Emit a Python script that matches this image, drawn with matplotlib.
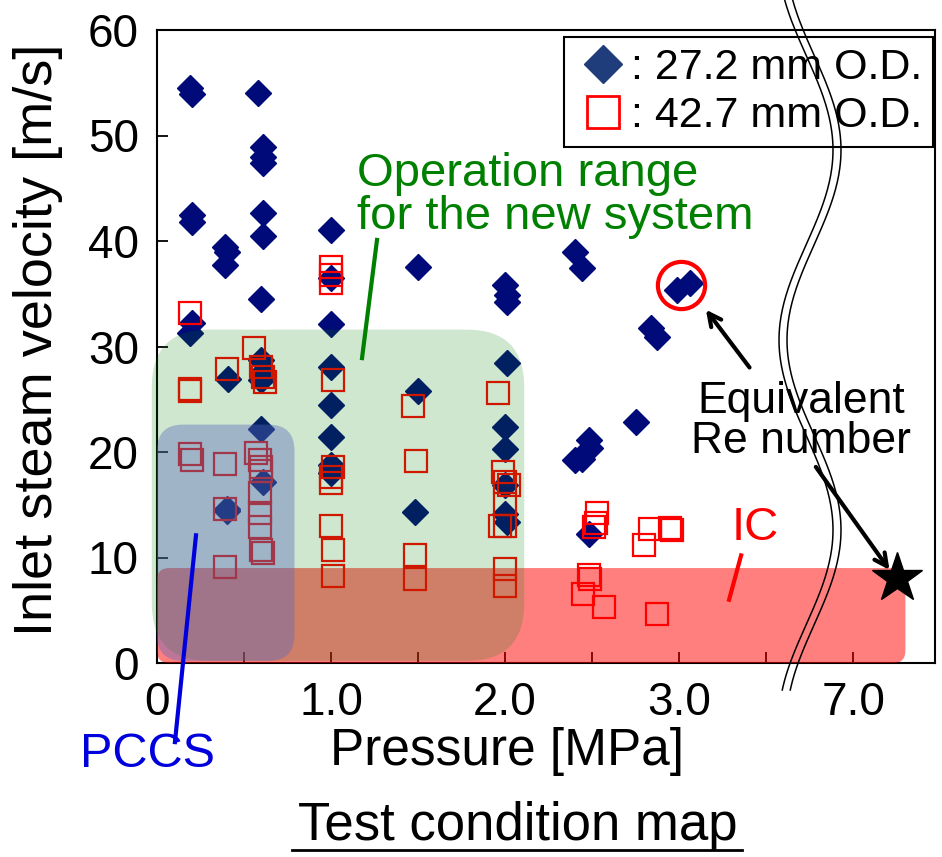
import numpy as np
import matplotlib
matplotlib.use("Agg")
import matplotlib.pyplot as plt
from matplotlib.patches import FancyBboxPatch
from matplotlib.lines import Line2D

plt.rcParams['font.family'] = ['Liberation Sans', 'DejaVu Sans']

# 27.2 mm O.D. (pressure [MPa], inlet steam velocity [m/s])
p_272 = [0.19, 0.20, 0.58, 0.61, 0.61, 0.61, 0.20, 0.20, 0.61, 0.61, 0.39, 0.40, 0.39,
         0.60, 1.00, 1.00, 1.00, 0.20, 0.19, 0.60, 0.61, 0.60, 0.41, 1.00, 1.00, 1.00,
         0.60, 1.00, 1.00, 0.61, 0.40, 0.40, 1.50, 2.00, 2.01, 2.01, 2.40, 2.44, 2.84,
         2.87, 2.99, 3.06, 2.01, 1.50, 2.00, 2.00, 2.75, 2.48, 2.49, 2.40, 2.44, 2.00,
         2.00, 2.01, 1.48, 2.48]
v_272 = [54.5, 53.9, 54.0, 48.9, 48.0, 47.4, 42.5, 41.8, 42.7, 40.5, 39.4, 39.0, 37.7,
         34.5, 41.0, 36.5, 32.1, 32.2, 31.3, 28.7, 27.6, 26.8, 26.9, 28.1, 24.5, 21.4,
         22.2, 18.8, 18.0, 17.2, 14.6, 14.4, 37.5, 35.8, 34.9, 34.2, 39.0, 37.4, 31.8,
         30.9, 35.4, 36.0, 28.4, 25.8, 22.4, 20.3, 22.8, 21.1, 20.4, 19.2, 19.3, 16.9,
         14.1, 13.4, 14.3, 12.2]

# 42.7 mm O.D.
p_427 = [0.19, 1.00, 1.00, 1.00, 0.56, 0.40, 0.60, 0.61, 0.62, 0.19, 0.19, 1.01, 0.19,
         0.20, 0.39, 0.57, 0.59, 0.60, 0.60, 0.59, 0.59, 0.59, 0.60, 0.61, 0.39, 0.39,
         1.01, 1.00, 1.00, 1.00, 1.01, 1.01, 1.47, 1.96, 1.49, 1.99, 2.00, 2.02, 2.00,
         1.97, 2.00, 1.48, 1.48, 2.00, 2.00, 2.53, 2.52, 2.51, 2.48, 2.49, 2.45, 2.57,
         2.83, 2.80, 2.95, 2.96, 2.87]
v_427 = [33.2, 37.5, 36.8, 36.0, 29.9, 27.9, 28.1, 27.1, 26.6, 26.0, 25.8, 26.8, 19.8,
         19.2, 18.9, 19.9, 19.2, 18.6, 18.2, 16.1, 14.2, 12.9, 10.7, 10.4, 14.6, 9.1,
         18.6, 17.6, 17.1, 13.0, 10.7, 8.2, 24.4, 25.6, 19.1, 18.1, 17.2, 16.9, 15.1,
         13.0, 13.0, 10.2, 8.0, 8.9, 7.3, 14.2, 13.3, 12.9, 8.3, 8.0, 6.5, 5.3,
         12.7, 11.2, 12.8, 12.6, 4.6]

# equivalent Re number point at high pressure
p_star = 7.25
v_star = 8.1

xticks = [0, 1, 2, 3, 4]
xticklabels = ['0', '1.0', '2.0', '3.0', '7.0']


def px(p):
    # broken axis: 7.0 MPa is drawn at 4.0
    return p if p < 3.6 else p - 3.0


W, H = 942, 857
fig = plt.figure(figsize=(W / 100, H / 100), dpi=100)
ax = fig.add_axes([157 / W, 1 - 663 / H, 778 / W, 633 / H])
ax.set_xlim(0, 4.47)
ax.set_ylim(0, 60)

ax.plot(p_272, v_272, ls='none', marker='D', ms=13, color='#000a78', zorder=2)
ax.plot(p_427, v_427, ls='none', marker='s', ms=16.5, mfc='none', mec='red', mew=1.6, zorder=2)
ax.plot(px(p_star), v_star, marker='*', ms=38, color='black', ls='none', zorder=6, clip_on=False)

# shaded ranges (rounded)
asp = (60 / 633) / (4.47 / 778)
ic = FancyBboxPatch((0.0, 0.0), 4.30, 9.0, boxstyle='round,pad=0,rounding_size=0.07',
                    mutation_aspect=asp, fc='red', ec='none', alpha=0.5, zorder=3)
green = FancyBboxPatch((-0.03, 0.2), 2.14, 31.4, boxstyle='round,pad=0,rounding_size=0.33',
                       mutation_aspect=asp, fc='green', ec='none', alpha=0.19, zorder=4, clip_on=False)
pccs = FancyBboxPatch((0.0, 0.2), 0.79, 22.4, boxstyle='round,pad=0,rounding_size=0.15',
                      mutation_aspect=asp, fc='#5a68be', ec='none', alpha=0.4, zorder=5)
for patch in [ic, green, pccs]:
    ax.add_patch(patch)

# ring around the equivalent point
ax.plot(3.01, 35.8, marker='o', ms=34, mfc='none', mec='red', mew=3, zorder=6)

# annotations
ax.text(1.15, 44.3, 'Operation range\nfor the new system', color='#008000', fontsize=34,
        ha='left', va='center', linespacing=0.95, zorder=7)
ax.plot([1.264, 1.178], [40.1, 28.9], color='#008000', lw=3, zorder=7)

ax.text(-0.057, -8.7, 'PCCS', color='#0000dd', fontsize=35, ha='center', va='center', zorder=7)
ax.plot([0.224, 0.103], [12.1, -7.5], color='#0000dd', lw=3, zorder=7, clip_on=False)

ax.text(3.44, 12.8, 'IC', color='red', fontsize=34, ha='center', va='center', zorder=7)
ax.plot([3.356, 3.287], [10.2, 6.0], color='red', lw=3, zorder=7)

ax.text(3.70, 22.9, 'Equivalent\nRe number', color='black', fontsize=32, ha='center', va='center',
        linespacing=0.95, zorder=7)
ax.annotate('', xy=(3.144, 33.7), xytext=(3.414, 27.8),
            arrowprops=dict(arrowstyle='->,head_length=0.9,head_width=0.45', lw=3, color='black'), zorder=7)
ax.annotate('', xy=(4.218, 8.6), xytext=(3.776, 18.8),
            arrowprops=dict(arrowstyle='->,head_length=0.9,head_width=0.45', lw=3, color='black'), zorder=7)

# axes styling
ax.set_xticks(xticks)
ax.set_xticklabels(xticklabels)
ax.set_xticks([0.5, 1.5, 2.5, 3.5], minor=True)
ax.set_yticks(range(0, 61, 10))
ax.tick_params(axis='both', which='both', direction='in', length=8, width=1.3, labelsize=33, pad=13,
               top=False, right=False)
for s in ax.spines.values():
    s.set_linewidth(1.5)

leg_handles = [Line2D([], [], ls='none', marker='D', ms=19, color='#1f3d7a'),
               Line2D([], [], ls='none', marker='s', ms=23, mfc='white', mec='red', mew=2)]
leg = ax.legend(leg_handles, [': 27.2 mm O.D.', ': 42.7 mm O.D.'], loc='upper right',
                bbox_to_anchor=(0.997, 0.989), borderaxespad=0, fontsize=31, frameon=True,
                fancybox=False, handletextpad=0.0, handlelength=1.3, borderpad=0.25,
                labelspacing=0.2, framealpha=1)
leg.get_frame().set_edgecolor('black')
leg.get_frame().set_linewidth(1.5)
leg.set_zorder(8)

# axis labels and caption
fig.text(38 / W, 1 - 340 / H, 'Inlet steam velocity [m/s]', rotation=90, fontsize=39,
         ha='center', va='center')
fig.text(507 / W, 1 - 752 / H, 'Pressure [MPa]', fontsize=37, ha='center', va='center')
fig.text(518 / W, 1 - 826 / H, 'Test condition map', fontsize=38, ha='center', va='center')
fig.add_artist(Line2D([292 / W, 742 / W], [1 - 850 / H, 1 - 850 / H], color='black', lw=2))

# axis break mark (double wavy line)
yy = np.linspace(0, 690, 300)
xx = 810 + 27 * np.sin(2 * np.pi * (yy - 55) / 380)
for off in (-4, 4):
    fig.add_artist(Line2D((xx + off) / W, 1 - yy / H, color='black', lw=1.1, zorder=10))

fig.savefig('out.png', dpi=100)
